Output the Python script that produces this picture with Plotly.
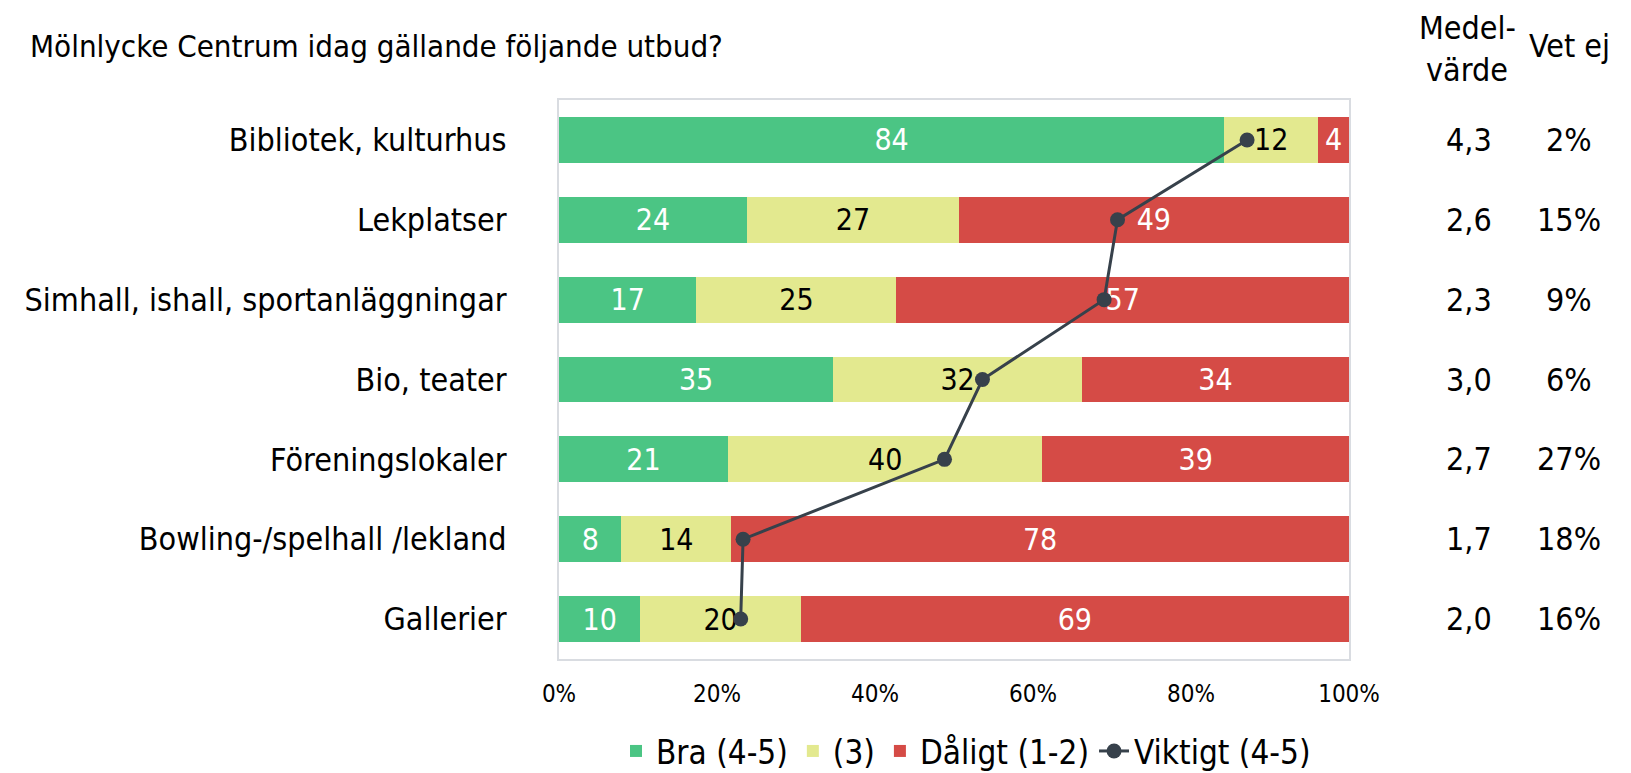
import plotly.graph_objects as go

categories = ["Bibliotek, kulturhus", "Lekplatser", "Simhall, ishall, sportanläggningar",
              "Bio, teater", "Föreningslokaler", "Bowling-/spelhall /lekland", "Gallerier"]
bra = [84.2, 23.8, 17.4, 34.7, 21.4, 7.9, 10.3]
mitt = [11.9, 26.8, 25.3, 31.5, 39.8, 13.9, 20.3]
daligt = [3.9, 49.4, 57.3, 33.8, 38.8, 78.2, 69.4]
viktigt = [87.1, 70.7, 69.0, 53.6, 48.8, 23.3, 23.0]
medelvarde = ["4,3", "2,6", "2,3", "3,0", "2,7", "1,7", "2,0"]
vet_ej = ["2%", "15%", "9%", "6%", "27%", "18%", "16%"]
x_ticks = [0, 20, 40, 60, 80, 100]
x_tick_labels = ["0%", "20%", "40%", "60%", "80%", "100%"]

FONT = "DejaVu Sans Condensed"
GREEN = "#4BC584"
YELLOW = "#E3E98F"
RED = "#D54B46"
LINE = "#37414B"

W, H = 1631, 773
L, R, T, B = 551, 290, 92, 122
PW, PH = W - L - R, H - T - B


def px_x(p):
    return (p - L) / PW


def px_y(p):
    return 1 - (p - T) / PH


fig = go.Figure()
for name, vals, color, tcol in [("Bra (4-5)", bra, GREEN, "white"),
                                ("(3)", mitt, YELLOW, "black"),
                                ("Dåligt (1-2)", daligt, RED, "white")]:
    fig.add_trace(go.Bar(
        y=categories, x=vals, name=name, orientation="h",
        marker=dict(color=color, line=dict(width=0)),
        texttemplate="%{x:.0f}", textposition="inside", insidetextanchor="middle",
        textfont=dict(family=FONT, size=30, color=tcol),
        constraintext="none", width=0.575,
    ))

fig.add_trace(go.Scatter(
    y=categories, x=viktigt, name="Viktigt (4-5)", mode="lines+markers",
    line=dict(color=LINE, width=3), marker=dict(color=LINE, size=15),
))

BIG = dict(family=FONT, size=32, color="black")
annotations = []
for cat, m, v in zip(categories, medelvarde, vet_ej):
    annotations.append(dict(xref="paper", yref="y", x=px_x(1461), y=cat, text=m, showarrow=False,
                            font=BIG, xanchor="center"))
    annotations.append(dict(xref="paper", yref="y", x=px_x(1561), y=cat, text=v, showarrow=False,
                            font=BIG, xanchor="center"))
annotations += [
    dict(xref="paper", yref="paper", x=px_x(1459), y=px_y(20), text="Medel-", showarrow=False,
         font=BIG, xanchor="center", yanchor="middle", borderpad=0),
    dict(xref="paper", yref="paper", x=px_x(1459), y=px_y(62), text="värde", showarrow=False,
         font=BIG, xanchor="center", yanchor="middle", borderpad=0),
    dict(xref="paper", yref="paper", x=px_x(1561), y=px_y(38), text="Vet ej", showarrow=False,
         font=BIG, xanchor="center", yanchor="middle", borderpad=0),
    dict(xref="paper", yref="paper", x=px_x(716), y=px_y(38),
         text="Mölnlycke Centrum idag gällande följande utbud?", showarrow=False,
         font=dict(family=FONT, size=31, color="black"), xanchor="right", yanchor="middle",
         borderpad=0),
]

fig.update_layout(
    barmode="stack",
    width=W, height=H,
    margin=dict(l=L, r=R, t=T, b=B, pad=0, autoexpand=False),
    paper_bgcolor="white", plot_bgcolor="white",
    font=dict(family=FONT, color="black"),
    showlegend=True,
    legend=dict(orientation="h", x=px_x(958), y=px_y(771), xanchor="center", yanchor="bottom",
                font=dict(family=FONT, size=33, color="black"), traceorder="normal",
                tracegroupgap=0, borderwidth=0),
    annotations=annotations,
)
fig.update_xaxes(range=[0, 100], tickvals=x_ticks, ticktext=x_tick_labels,
                 showgrid=False, zeroline=False, showline=True, mirror=True,
                 linecolor="#D9DCE1", linewidth=2, ticks="",
                 tickfont=dict(family=FONT, size=24, color="black"), ticklabelstandoff=12)
fig.update_yaxes(categoryorder="array", categoryarray=categories, autorange="reversed",
                 showgrid=False, zeroline=False, showline=True, mirror=True,
                 linecolor="#D9DCE1", linewidth=2, ticks="",
                 tickfont=dict(family=FONT, size=32, color="black"), ticklabelstandoff=44)

fig.write_html("out.html")
